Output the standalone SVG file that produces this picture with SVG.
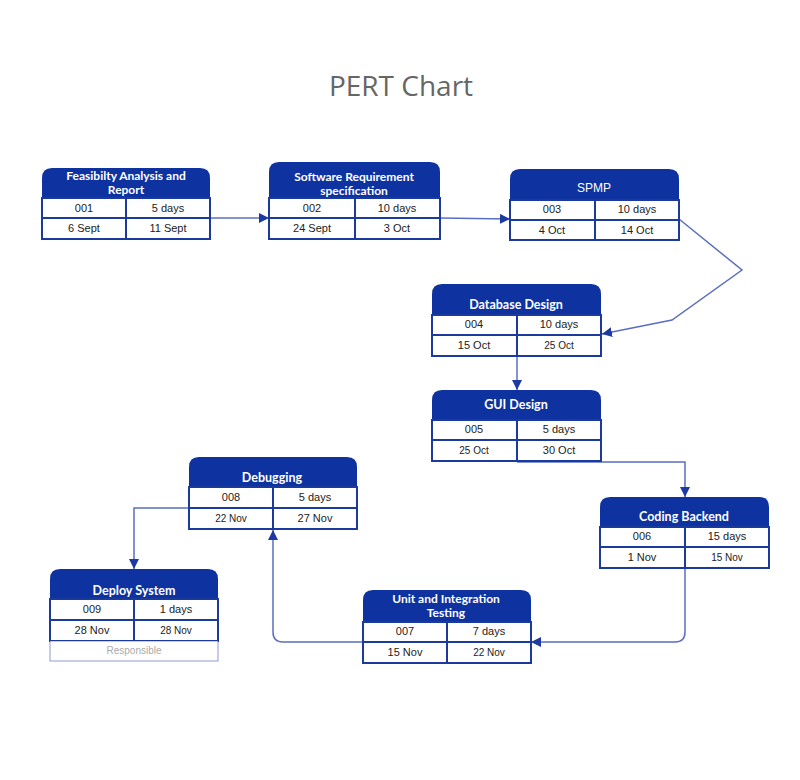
<svg xmlns="http://www.w3.org/2000/svg" width="800" height="780" viewBox="0 0 800 780">
<defs>
<style>
.hd{fill:#0e33a0;}
.cell{fill:#ffffff;stroke:#1b3a9e;stroke-width:2;}
.ht{fill:#ffffff;font-family:Lato,"Open Sans",sans-serif;font-weight:700;font-size:12.5px;text-anchor:middle;}
.ht2{font-size:12px;}
.ct{fill:#222222;font-family:"Liberation Sans",Arial,sans-serif;font-size:11px;text-anchor:middle;}
.cs{font-size:10px;}
.resp{fill:#aaaaaa;font-family:"Liberation Sans",Arial,sans-serif;font-size:10px;text-anchor:middle;}
.conn{fill:none;stroke:#5a6fbf;stroke-width:1.5;}
.title{fill:#666666;font-family:"Open Sans",sans-serif;font-size:28px;text-anchor:middle;}
</style>
<marker id="arr" markerUnits="userSpaceOnUse" markerWidth="11" markerHeight="11" refX="10" refY="5" orient="auto">
<path d="M0,0 L10,5 L0,10 Z" fill="#1d3aa3"/>
</marker>
</defs>
<rect width="800" height="780" fill="#ffffff"/>
<text class="title" x="401" y="96">PERT Chart</text>

<g id="connectors">
<path class="conn" marker-end="url(#arr)" d="M210,218 L269,218"/>
<path class="conn" marker-end="url(#arr)" d="M440,218 L510,219"/>
<path class="conn" marker-end="url(#arr)" d="M679,219 L742,270 L672,320 L602,334"/>
<path class="conn" marker-end="url(#arr)" d="M517,356 L517,390"/>
<path class="conn" marker-end="url(#arr)" d="M517,462 L685,462 L685,497"/>
<path class="conn" marker-end="url(#arr)" d="M685,568 L685,632 Q685,642 675,642 L531,642"/>
<path class="conn" marker-end="url(#arr)" d="M363,642 L283,642 Q273,642 273,632 L273,530"/>
<path class="conn" marker-end="url(#arr)" d="M189,508 L134,508 L134,569"/>
</g>

<g id="n001">
<path class="hd" d="M42,198 L42,178 Q42,168 52,168 L200,168 Q210,168 210,178 L210,198 Z"/>
<text class="ht ht2" x="126" y="180">Feasibilty Analysis and</text>
<text class="ht ht2" x="126" y="194">Report</text>
<rect class="cell" x="42" y="198" width="84" height="20"/>
<rect class="cell" x="126" y="198" width="84" height="20"/>
<rect class="cell" x="42" y="218" width="84" height="21"/>
<rect class="cell" x="126" y="218" width="84" height="21"/>
<text class="ct" x="84" y="212">001</text>
<text class="ct" x="168" y="212">5 days</text>
<text class="ct" x="84" y="232">6 Sept</text>
<text class="ct" x="168" y="232">11 Sept</text>
</g>

<g id="n002">
<path class="hd" d="M269,198 L269,172 Q269,162 279,162 L430,162 Q440,162 440,172 L440,198 Z"/>
<text class="ht ht2" x="354" y="181">Software Requirement</text>
<text class="ht ht2" x="354" y="195">specification</text>
<rect class="cell" x="269" y="198" width="86" height="20"/>
<rect class="cell" x="355" y="198" width="85" height="20"/>
<rect class="cell" x="269" y="218" width="86" height="21"/>
<rect class="cell" x="355" y="218" width="85" height="21"/>
<text class="ct" x="312" y="212">002</text>
<text class="ct" x="397" y="212">10 days</text>
<text class="ct" x="312" y="232">24 Sept</text>
<text class="ct" x="397" y="232">3 Oct</text>
</g>

<g id="n003">
<path class="hd" d="M510,200 L510,179 Q510,169 520,169 L669,169 Q679,169 679,179 L679,200 Z"/>
<text class="ht" x="594" y="192" style="font-family:'Liberation Sans',Arial,sans-serif;font-weight:400;font-size:12px">SPMP</text>
<rect class="cell" x="510" y="200" width="85" height="20"/>
<rect class="cell" x="595" y="200" width="84" height="20"/>
<rect class="cell" x="510" y="220" width="85" height="20"/>
<rect class="cell" x="595" y="220" width="84" height="20"/>
<text class="ct" x="552" y="213">003</text>
<text class="ct" x="637" y="213">10 days</text>
<text class="ct" x="552" y="234">4 Oct</text>
<text class="ct" x="637" y="234">14 Oct</text>
</g>

<g id="n004">
<path class="hd" d="M432,315 L432,294 Q432,284 442,284 L591,284 Q601,284 601,294 L601,315 Z"/>
<text class="ht" x="516" y="309">Database Design</text>
<rect class="cell" x="432" y="315" width="85" height="20"/>
<rect class="cell" x="517" y="315" width="84" height="20"/>
<rect class="cell" x="432" y="335" width="85" height="21"/>
<rect class="cell" x="517" y="335" width="84" height="21"/>
<text class="ct" x="474" y="328">004</text>
<text class="ct" x="559" y="328">10 days</text>
<text class="ct" x="474" y="349">15 Oct</text>
<text class="ct cs" x="559" y="349">25 Oct</text>
</g>

<g id="n005">
<path class="hd" d="M432,420 L432,400 Q432,390 442,390 L591,390 Q601,390 601,400 L601,420 Z"/>
<text class="ht" x="516" y="409">GUI Design</text>
<rect class="cell" x="432" y="420" width="85" height="20"/>
<rect class="cell" x="517" y="420" width="84" height="20"/>
<rect class="cell" x="432" y="440" width="85" height="21"/>
<rect class="cell" x="517" y="440" width="84" height="21"/>
<text class="ct" x="474" y="433">005</text>
<text class="ct" x="559" y="433">5 days</text>
<text class="ct cs" x="474" y="454">25 Oct</text>
<text class="ct" x="559" y="454">30 Oct</text>
</g>

<g id="n006">
<path class="hd" d="M600,527 L600,507 Q600,497 610,497 L759,497 Q769,497 769,507 L769,527 Z"/>
<text class="ht" x="684" y="521">Coding Backend</text>
<rect class="cell" x="600" y="527" width="85" height="20"/>
<rect class="cell" x="685" y="527" width="84" height="20"/>
<rect class="cell" x="600" y="547" width="85" height="21"/>
<rect class="cell" x="685" y="547" width="84" height="21"/>
<text class="ct" x="642" y="540">006</text>
<text class="ct" x="727" y="540">15 days</text>
<text class="ct" x="642" y="561">1 Nov</text>
<text class="ct cs" x="727" y="561">15 Nov</text>
</g>

<g id="n007">
<path class="hd" d="M363,622 L363,600 Q363,590 373,590 L521,590 Q531,590 531,600 L531,622 Z"/>
<text class="ht ht2" x="446" y="603">Unit and Integration</text>
<text class="ht ht2" x="446" y="617">Testing</text>
<rect class="cell" x="363" y="622" width="84" height="20"/>
<rect class="cell" x="447" y="622" width="84" height="20"/>
<rect class="cell" x="363" y="642" width="84" height="21"/>
<rect class="cell" x="447" y="642" width="84" height="21"/>
<text class="ct" x="405" y="635">007</text>
<text class="ct" x="489" y="635">7 days</text>
<text class="ct" x="405" y="656">15 Nov</text>
<text class="ct cs" x="489" y="656">22 Nov</text>
</g>

<g id="n008">
<path class="hd" d="M189,487 L189,467 Q189,457 199,457 L347,457 Q357,457 357,467 L357,487 Z"/>
<text class="ht" x="272" y="482">Debugging</text>
<rect class="cell" x="189" y="487" width="84" height="21"/>
<rect class="cell" x="273" y="487" width="84" height="21"/>
<rect class="cell" x="189" y="508" width="84" height="21"/>
<rect class="cell" x="273" y="508" width="84" height="21"/>
<text class="ct" x="231" y="501">008</text>
<text class="ct" x="315" y="501">5 days</text>
<text class="ct cs" x="231" y="522">22 Nov</text>
<text class="ct" x="315" y="522">27 Nov</text>
</g>

<g id="n009">
<path class="hd" d="M50,599 L50,579 Q50,569 60,569 L208,569 Q218,569 218,579 L218,599 Z"/>
<text class="ht" x="134" y="595">Deploy System</text>
<rect class="cell" x="50" y="599" width="84" height="21"/>
<rect class="cell" x="134" y="599" width="84" height="21"/>
<rect class="cell" x="50" y="620" width="84" height="21"/>
<rect class="cell" x="134" y="620" width="84" height="21"/>
<rect x="50" y="641" width="168" height="20" fill="#ffffff" stroke="#1b3a9e" stroke-width="1" stroke-opacity="0.5"/>
<text class="ct" x="92" y="613">009</text>
<text class="ct" x="176" y="613">1 days</text>
<text class="ct" x="92" y="634">28 Nov</text>
<text class="ct cs" x="176" y="634">28 Nov</text>
<text class="resp" x="134" y="654">Responsible</text>
</g>
</svg>
